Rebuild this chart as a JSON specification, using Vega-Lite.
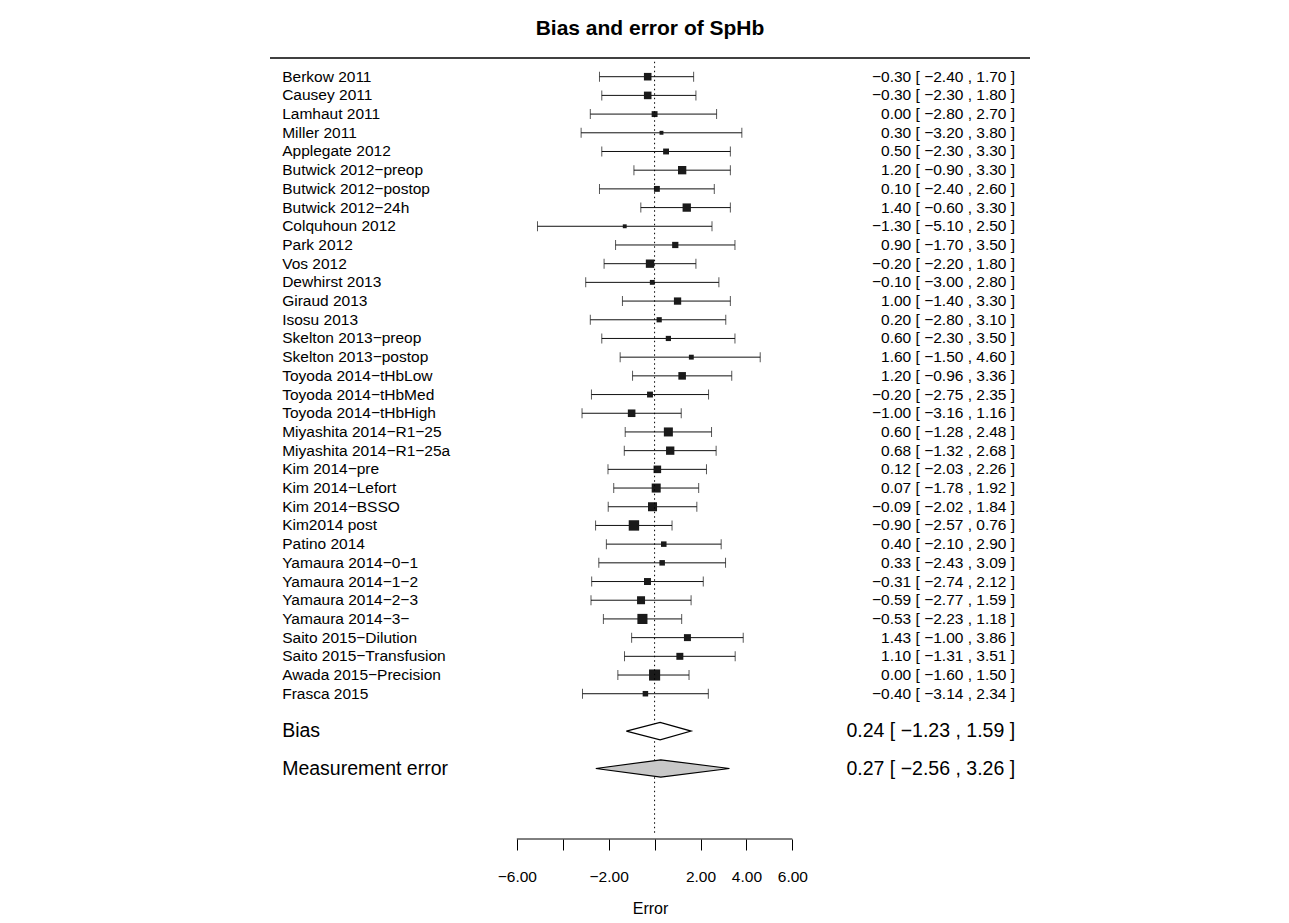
{
  "$schema": "https://vega.github.io/schema/vega-lite/v6.json",
  "width": 760,
  "height": 781,
  "autosize": {"type": "none"},
  "padding": {"left": 270, "right": 259, "top": 58, "bottom": 84},
  "background": "white",
  "title": {"text": "Bias and error of SpHb", "fontSize": 21, "fontWeight": "bold", "font": "Liberation Sans", "anchor": "middle", "frame": "group", "baseline": "alphabetic", "offset": 1, "color": "black"},
  "config": {"view": {"stroke": null}, "font": "Liberation Sans"},
  "datasets": {
    "studies": [
      {"row": 1, "study": "Berkow 2011", "est": -0.30, "lo": -2.40, "hi": 1.70, "weight": 53},
      {"row": 2, "study": "Causey 2011", "est": -0.30, "lo": -2.30, "hi": 1.80, "weight": 53},
      {"row": 3, "study": "Lamhaut 2011", "est": 0.00, "lo": -2.80, "hi": 2.70, "weight": 32},
      {"row": 4, "study": "Miller 2011", "est": 0.30, "lo": -3.20, "hi": 3.80, "weight": 14},
      {"row": 5, "study": "Applegate 2012", "est": 0.50, "lo": -2.30, "hi": 3.30, "weight": 32},
      {"row": 6, "study": "Butwick 2012−preop", "est": 1.20, "lo": -0.90, "hi": 3.30, "weight": 64},
      {"row": 7, "study": "Butwick 2012−postop", "est": 0.10, "lo": -2.40, "hi": 2.60, "weight": 32},
      {"row": 8, "study": "Butwick 2012−24h", "est": 1.40, "lo": -0.60, "hi": 3.30, "weight": 64},
      {"row": 9, "study": "Colquhoun 2012", "est": -1.30, "lo": -5.10, "hi": 2.50, "weight": 14},
      {"row": 10, "study": "Park 2012", "est": 0.90, "lo": -1.70, "hi": 3.50, "weight": 36},
      {"row": 11, "study": "Vos 2012", "est": -0.20, "lo": -2.20, "hi": 1.80, "weight": 64},
      {"row": 12, "study": "Dewhirst 2013", "est": -0.10, "lo": -3.00, "hi": 2.80, "weight": 22},
      {"row": 13, "study": "Giraud 2013", "est": 1.00, "lo": -1.40, "hi": 3.30, "weight": 49},
      {"row": 14, "study": "Isosu 2013", "est": 0.20, "lo": -2.80, "hi": 3.10, "weight": 25},
      {"row": 15, "study": "Skelton 2013−preop", "est": 0.60, "lo": -2.30, "hi": 3.50, "weight": 25},
      {"row": 16, "study": "Skelton 2013−postop", "est": 1.60, "lo": -1.50, "hi": 4.60, "weight": 22},
      {"row": 17, "study": "Toyoda 2014−tHbLow", "est": 1.20, "lo": -0.96, "hi": 3.36, "weight": 53},
      {"row": 18, "study": "Toyoda 2014−tHbMed", "est": -0.20, "lo": -2.75, "hi": 2.35, "weight": 32},
      {"row": 19, "study": "Toyoda 2014−tHbHigh", "est": -1.00, "lo": -3.16, "hi": 1.16, "weight": 53},
      {"row": 20, "study": "Miyashita 2014−R1−25", "est": 0.60, "lo": -1.28, "hi": 2.48, "weight": 75},
      {"row": 21, "study": "Miyashita 2014−R1−25a", "est": 0.68, "lo": -1.32, "hi": 2.68, "weight": 64},
      {"row": 22, "study": "Kim 2014−pre", "est": 0.12, "lo": -2.03, "hi": 2.26, "weight": 53},
      {"row": 23, "study": "Kim 2014−Lefort", "est": 0.07, "lo": -1.78, "hi": 1.92, "weight": 75},
      {"row": 24, "study": "Kim 2014−BSSO", "est": -0.09, "lo": -2.02, "hi": 1.84, "weight": 75},
      {"row": 25, "study": "Kim2014 post", "est": -0.90, "lo": -2.57, "hi": 0.76, "weight": 100},
      {"row": 26, "study": "Patino 2014", "est": 0.40, "lo": -2.10, "hi": 2.90, "weight": 28},
      {"row": 27, "study": "Yamaura 2014−0−1", "est": 0.33, "lo": -2.43, "hi": 3.09, "weight": 28},
      {"row": 28, "study": "Yamaura 2014−1−2", "est": -0.31, "lo": -2.74, "hi": 2.12, "weight": 45},
      {"row": 29, "study": "Yamaura 2014−2−3", "est": -0.59, "lo": -2.77, "hi": 1.59, "weight": 59},
      {"row": 30, "study": "Yamaura 2014−3−", "est": -0.53, "lo": -2.23, "hi": 1.18, "weight": 94},
      {"row": 31, "study": "Saito 2015−Dilution", "est": 1.43, "lo": -1.00, "hi": 3.86, "weight": 45},
      {"row": 32, "study": "Saito 2015−Transfusion", "est": 1.10, "lo": -1.31, "hi": 3.51, "weight": 45},
      {"row": 33, "study": "Awada 2015−Precision", "est": 0.00, "lo": -1.60, "hi": 1.50, "weight": 114},
      {"row": 34, "study": "Frasca 2015", "est": -0.40, "lo": -3.14, "hi": 2.34, "weight": 28}
    ],
    "summary": [
      {"row": 36, "study": "Bias", "est": 0.24, "lo": -1.23, "hi": 1.59},
      {"row": 38, "study": "Measurement error", "est": 0.27, "lo": -2.56, "hi": 3.26}
    ],
    "one": [{"item": "reference"}]
  },
  "layer": [
    {
      "data": {"name": "studies"},
      "mark": {"type": "rule", "color": "#111", "strokeWidth": 1},
      "encoding": {
        "x": {"field": "lo", "type": "quantitative",
              "scale": {"domain": [-16.75, 16.35], "nice": false, "zero": false},
              "axis": {"values": [-6, -4, -2, 0, 2, 4, 6], "title": "Error", "domain": false, "grid": false,
                       "tickSize": 11, "tickColor": "black", "tickWidth": 1,
                       "labelExpr": "datum.value == 0 || datum.value == -4 ? '' : format(datum.value, '.2f')",
                       "labelFontSize": 15.5, "labelColor": "black", "labelPadding": 19, "labelFont": "Liberation Sans",
                       "titleFontSize": 16, "titleFontWeight": "normal", "titleColor": "black", "titlePadding": 16, "titleFont": "Liberation Sans"}},
        "x2": {"field": "hi"},
        "y": {"field": "row", "type": "quantitative", "scale": {"domain": [0, 41.77], "reverse": true, "nice": false, "zero": false}, "axis": null}
      }
    },
    {
      "data": {"name": "studies"},
      "transform": [{"fold": ["lo", "hi"], "as": ["end", "xv"]}],
      "mark": {"type": "tick", "orient": "vertical", "size": 10, "thickness": 1, "color": "#111"},
      "encoding": {
        "x": {"field": "xv", "type": "quantitative"},
        "y": {"field": "row", "type": "quantitative", "axis": null}
      }
    },
    {
      "data": {"name": "studies"},
      "mark": {"type": "point", "shape": "square", "filled": true, "color": "#1a1a1a", "opacity": 1},
      "encoding": {
        "x": {"field": "est", "type": "quantitative"},
        "y": {"field": "row", "type": "quantitative", "axis": null},
        "size": {"field": "weight", "type": "quantitative", "scale": {"type": "linear", "domain": [0, 120], "range": [0, 130], "zero": true}, "legend": null}
      }
    },
    {
      "data": {"name": "one"},
      "mark": {"type": "rule", "color": "black", "strokeWidth": 1, "strokeDash": [1.5, 3]},
      "encoding": {
        "x": {"datum": 0, "type": "quantitative"},
        "y": {"datum": 0.2, "type": "quantitative", "axis": null},
        "y2": {"datum": 41.55}
      }
    },
    {
      "data": {"name": "one"},
      "mark": {"type": "rule", "color": "black", "strokeWidth": 1.5},
      "encoding": {
        "y": {"datum": 0, "type": "quantitative", "axis": null}
      }
    },
    {
      "data": {"name": "one"},
      "mark": {"type": "rule", "color": "black", "strokeWidth": 1},
      "encoding": {
        "x": {"datum": -6, "type": "quantitative"},
        "x2": {"datum": 6},
        "y": {"datum": 41.77, "type": "quantitative", "axis": null}
      }
    },
    {
      "data": {"name": "summary"},
      "transform": [
        {"fold": ["lo", "est", "hi"], "as": ["k", "xv"]},
        {"calculate": "datum.k == 'est' ? 0.465 : 0", "as": "h"},
        {"calculate": "datum.row - datum.h", "as": "ytop"},
        {"calculate": "datum.row + datum.h", "as": "ybot"}
      ],
      "mark": {"type": "area", "orient": "vertical", "stroke": "black", "strokeWidth": 1.2, "opacity": 1, "fillOpacity": 1},
      "encoding": {
        "x": {"field": "xv", "type": "quantitative"},
        "y": {"field": "ytop", "type": "quantitative", "axis": null},
        "y2": {"field": "ybot"},
        "color": {"field": "study", "type": "nominal", "scale": {"domain": ["Bias", "Measurement error"], "range": ["white", "#c8c8c8"]}, "legend": null}
      }
    },
    {
      "data": {"name": "studies"},
      "mark": {"type": "text", "align": "left", "baseline": "middle", "fontSize": 15.5, "color": "black", "font": "Liberation Sans"},
      "encoding": {
        "x": {"datum": -16.22, "type": "quantitative"},
        "y": {"field": "row", "type": "quantitative", "axis": null},
        "text": {"field": "study"}
      }
    },
    {
      "data": {"name": "studies"},
      "transform": [{"calculate": "format(datum.est, '.2f') + ' [ ' + format(datum.lo, '.2f') + ' , ' + format(datum.hi, '.2f') + ' ]'", "as": "ci"}],
      "mark": {"type": "text", "align": "right", "baseline": "middle", "fontSize": 15.5, "color": "black", "font": "Liberation Sans"},
      "encoding": {
        "x": {"datum": 15.7, "type": "quantitative"},
        "y": {"field": "row", "type": "quantitative", "axis": null},
        "text": {"field": "ci"}
      }
    },
    {
      "data": {"name": "summary"},
      "mark": {"type": "text", "align": "left", "baseline": "middle", "fontSize": 19.5, "color": "black", "font": "Liberation Sans"},
      "encoding": {
        "x": {"datum": -16.22, "type": "quantitative"},
        "y": {"field": "row", "type": "quantitative", "axis": null},
        "text": {"field": "study"}
      }
    },
    {
      "data": {"name": "summary"},
      "transform": [{"calculate": "format(datum.est, '.2f') + ' [ ' + format(datum.lo, '.2f') + ' , ' + format(datum.hi, '.2f') + ' ]'", "as": "ci"}],
      "mark": {"type": "text", "align": "right", "baseline": "middle", "fontSize": 19.5, "color": "black", "font": "Liberation Sans"},
      "encoding": {
        "x": {"datum": 15.7, "type": "quantitative"},
        "y": {"field": "row", "type": "quantitative", "axis": null},
        "text": {"field": "ci"}
      }
    }
  ]
}
